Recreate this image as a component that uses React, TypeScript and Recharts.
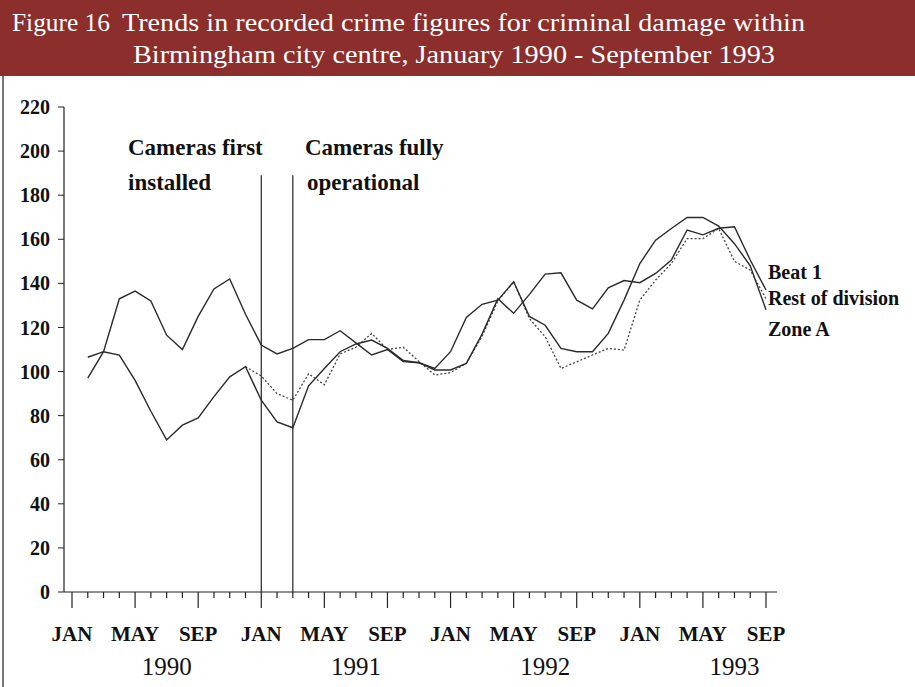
import React from 'react';
import { LineChart, Line, XAxis, YAxis, ReferenceLine } from 'recharts';

const MONTH_NAMES = ['JAN', 'FEB', 'MAR', 'APR', 'MAY', 'JUN', 'JUL', 'AUG', 'SEP', 'OCT', 'NOV', 'DEC'];
const YEARS = ['1990', '1991', '1992', '1993'];
const Y_TICKS = [0, 20, 40, 60, 80, 100, 120, 140, 160, 180, 200, 220];

// monthly values, Jan 1990 .. Sep 1993 (null = not drawn)
const beat1 = [
  null, 97, 109, 133, 136.5, 132, 116.5, 110, 125, 137.5, 142, 126,
  112, 108, 110.5, 114.5, 114.5, 118.5, 113, 107.5, 110, 104.5, 104, 100.7,
  100.7, 103.7, 117, 133, 126.4, 135, 144.2, 144.8, 132.4, 128.4, 138, 141.3,
  140.3, 144.5, 150.6, 164.2, 162, 165, 165.7, 150.6, 137,
];
const restOfDivision = [
  null, null, null, null, null, null, null, null, null, null, null, 102.2,
  98, 90, 87, 99, 94, 108, 111, 117.3, 110, 111, 104.6, 98.4,
  99.5, 103.7, 116, 132, 140.7, 124, 115.8, 101.4, 104.4, 107.5, 110.5, 109.7,
  132.4, 141.5, 149, 160.3, 160.3, 164.9, 150, 146, 133,
];
const zoneA = [
  null, 106.5, 109, 107.5, 96, 82, 69, 75.7, 79, 88.6, 97.6, 102.2,
  87, 77.2, 74.5, 93.5, 101.4, 109, 112.5, 114.3, 110.5, 105, 104, 101.4,
  109, 124.5, 130.5, 132.4, 140.7, 125, 121, 110.5, 109, 109, 117.3, 132.4,
  149, 159.6, 164.9, 169.9, 169.9, 166, 158, 148, 128,
];

const CAMERA_EVENTS = [
  { month: 12, top: 189 },
  { month: 14, top: 189 },
];

const data = beat1.map((_, i) => ({
  m: i,
  beat1: beat1[i],
  restOfDivision: restOfDivision[i],
  zoneA: zoneA[i],
}));
const monthTicks = data.map((d) => d.m);

const SERIF = "'Liberation Serif', 'Times New Roman', serif";

const MonthTick = (props: any) => {
  const { x, y, payload } = props;
  const i = payload.value as number;
  const major = i % 4 === 0;
  return (
    <g>
      <line x1={x} y1={y} x2={x} y2={y + (major ? 16 : 6)} stroke="#222" strokeWidth={1.2} />
      {major && (
        <text x={x} y={y + 49} textAnchor="middle" fontFamily={SERIF} fontWeight="bold" fontSize={21} fill="#111">
          {MONTH_NAMES[i % 12]}
        </text>
      )}
      {i % 12 === 6 && (
        <text x={x} y={y + 83} textAnchor="middle" fontFamily={SERIF} fontSize={25} fill="#111">
          {YEARS[Math.floor(i / 12)]}
        </text>
      )}
    </g>
  );
};

export default function App() {
  return (
    <div style={{ position: 'relative', width: 915, height: 687, background: '#fff', overflow: 'hidden' }}>
      <style>{'body{margin:0}'}</style>
      <div style={{ position: 'absolute', left: 2, top: 74, width: 2, height: 613, background: '#777' }} />
      <svg width={915} height={76} style={{ position: 'absolute', left: 0, top: 0 }}>
        <rect x={0} y={0} width={915} height={76} fill="#8b2e2c" />
        <g fontFamily={SERIF} fontSize={26} fill="#fff">
          <text x={12} y={31} textLength={98} lengthAdjust="spacingAndGlyphs">Figure 16</text>
          <text x={122} y={31} textLength={683} lengthAdjust="spacingAndGlyphs">
            Trends in recorded crime figures for criminal damage within
          </text>
          <text x={133} y={63} textLength={642} lengthAdjust="spacingAndGlyphs">
            Birmingham city centre, January 1990 - September 1993
          </text>
        </g>
      </svg>
      <div style={{ position: 'absolute', left: 0, top: 0 }}>
        <LineChart width={915} height={687} data={data} margin={{ top: 107, right: 138, bottom: 35, left: 14 }}>
          <XAxis
            dataKey="m"
            type="number"
            domain={[0, 44]}
            ticks={monthTicks}
            interval={0}
            padding={{ left: 8, right: 11 }}
            height={60}
            tickSize={0}
            tickMargin={0}
            tickLine={false}
            axisLine={{ stroke: '#222', strokeWidth: 1.2 }}
            tick={<MonthTick />}
          />
          <YAxis
            type="number"
            domain={[0, 220]}
            ticks={Y_TICKS}
            interval={0}
            width={50}
            tickSize={6}
            tickMargin={8}
            axisLine={{ stroke: '#222', strokeWidth: 1.2 }}
            tickLine={{ stroke: '#222' }}
            tick={{ fontFamily: SERIF, fontSize: 20, fill: '#111', fontWeight: 'bold' }}
          />
          {CAMERA_EVENTS.map((ev) => (
            <ReferenceLine
              key={ev.month}
              segment={[{ x: ev.month, y: 0 }, { x: ev.month, y: ev.top }]}
              stroke="#222"
              strokeWidth={1.2}
            />
          ))}
          <Line dataKey="restOfDivision" stroke="#444" strokeWidth={1.3} strokeDasharray="2 2" dot={false} isAnimationActive={false} />
          <Line dataKey="zoneA" stroke="#2a2a2a" strokeWidth={1.4} dot={false} isAnimationActive={false} />
          <Line dataKey="beat1" stroke="#2a2a2a" strokeWidth={1.4} dot={false} isAnimationActive={false} />
        </LineChart>
      </div>
      <svg width={915} height={687} style={{ position: 'absolute', left: 0, top: 0, pointerEvents: 'none' }}>
        <g fontFamily={SERIF} fontWeight="bold" fontSize={23} fill="#111">
          <text x={128} y={155}>Cameras first</text>
          <text x={128} y={190}>installed</text>
          <text x={305} y={155}>Cameras fully</text>
          <text x={307} y={190}>operational</text>
        </g>
        <g fontFamily={SERIF} fontWeight="bold" fontSize={20} fill="#111">
          <text x={768} y={279}>Beat 1</text>
          <text x={768} y={305}>Rest of division</text>
          <text x={768} y={336}>Zone A</text>
        </g>
      </svg>
    </div>
  );
}
